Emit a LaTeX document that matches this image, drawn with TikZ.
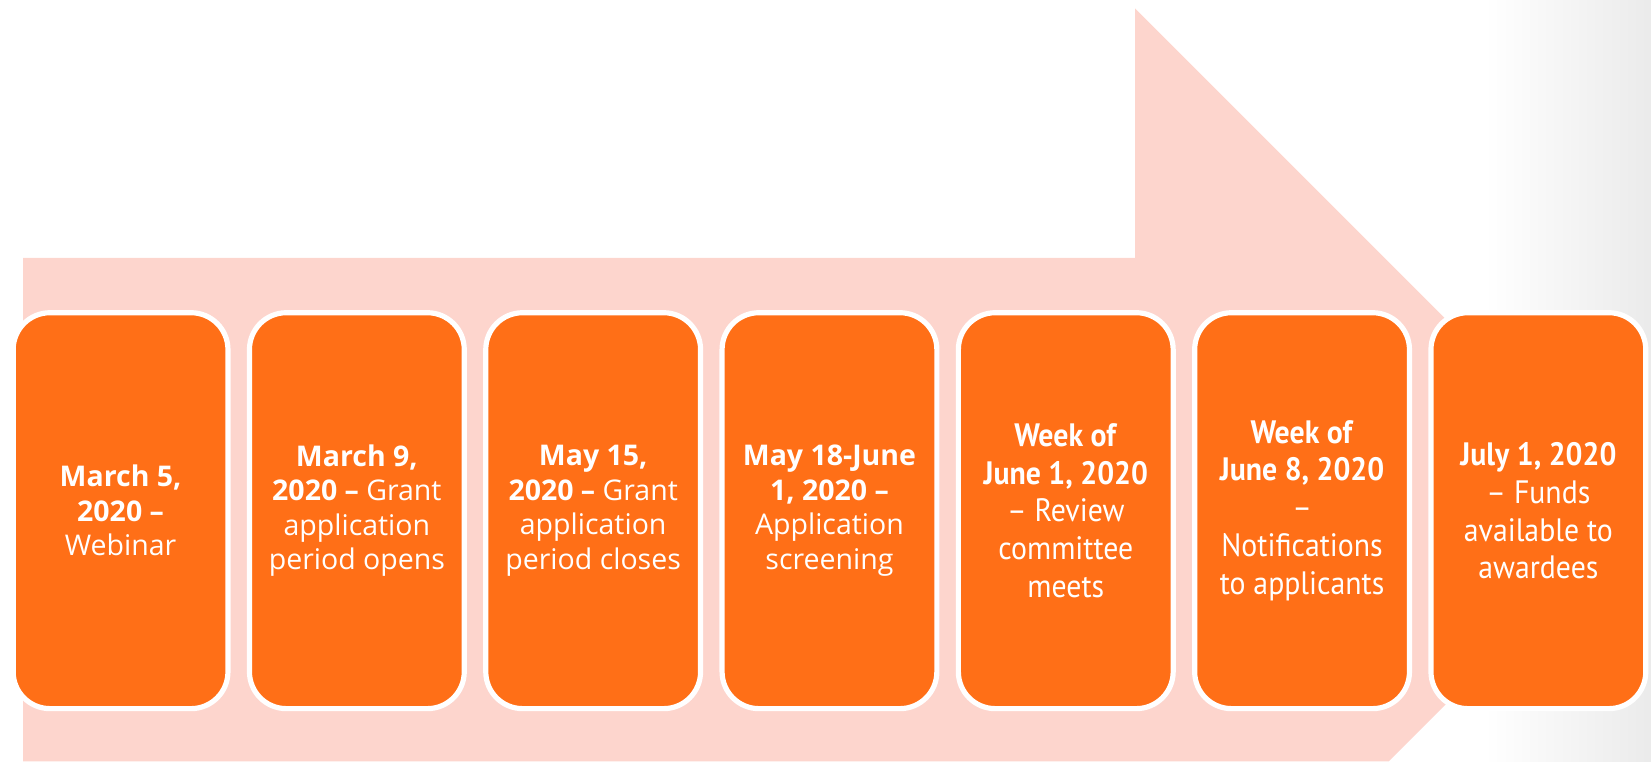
\documentclass[tikz,border=0pt]{standalone}
\usepackage{fontspec}
\setmainfont{Open Sans}
\newfontfamily\narrowfont[FakeStretch=0.92]{PT Sans}
\usetikzlibrary{positioning}
\definecolor{arrowpink}{RGB}{253,213,205}
\definecolor{cardorange}{RGB}{255,111,23}
\tikzset{
  card/.style={draw=white, line width=2.8pt, fill=cardorange, rounded corners=0.7cm,
    minimum width=4.08cm, minimum height=7.52cm, text=white, align=center,
    font=\fontsize{15.4}{18.6}\selectfont},
  latecard/.style={card, font=\narrowfont\fontsize{17.5}{20.5}\selectfont}
}
\begin{document}
\begin{tikzpicture}
  \useasboundingbox (0,0) rectangle (31.36,14.46);
  \shade[left color=white, right color=black!8] (28.2,0) rectangle (31.36,14.46);
  % big arrow behind the cards
  \fill[arrowpink] (0.44,0) -- (0.44,9.56) -- (21.56,9.56) -- (21.56,14.30)
    -- (31.12,4.74) -- (26.38,0) -- cycle;
  \node[card] (mar5) at (2.29,4.76) {\textbf{March 5,}\\ \textbf{2020 –}\\ Webinar};
  \node[card, right=0.31cm of mar5] (mar9) {\textbf{March 9,}\\ \textbf{2020 –} Grant\\ application\\ period opens};
  \node[card, right=0.31cm of mar9] (may15) {\textbf{May 15,}\\ \textbf{2020 –} Grant\\ application\\ period closes};
  \node[card, right=0.31cm of may15] (may18) {\textbf{May 18-June}\\ \textbf{1, 2020 –}\\ Application\\ screening};
  \node[latecard, right=0.31cm of may18] (jun1) {\textbf{Week of}\\ \textbf{June 1, 2020}\\ – Review\\ committee\\ meets};
  \node[latecard, right=0.31cm of jun1] (jun8) {\textbf{Week of}\\ \textbf{June 8, 2020}\\ –\\ Notifications\\ to applicants};
  \node[latecard, right=0.31cm of jun8] (jul1) {\textbf{July 1, 2020}\\ – Funds\\ available to\\ awardees};
\end{tikzpicture}
\end{document}
